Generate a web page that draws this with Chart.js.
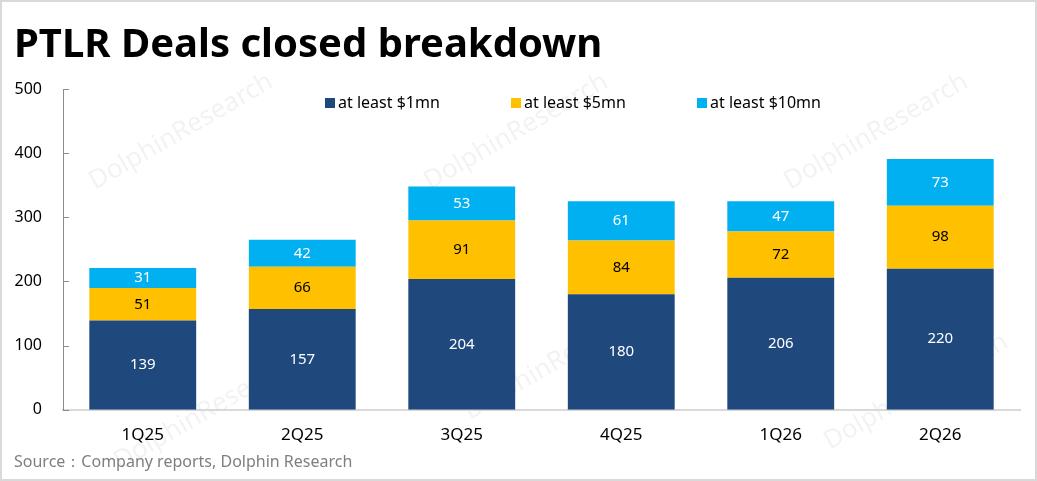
<!DOCTYPE html>
<html>
<head>
<meta charset="utf-8">
<script src="https://cdn.jsdelivr.net/npm/chart.js@4.4.1/dist/chart.umd.min.js"></script>
<style>
  body { margin: 0; background: #fff; }
  #wrap { width: 1037px; height: 481px; }
</style>
</head>
<body>
<div id="wrap"><canvas id="dealsChart" width="1037" height="481"></canvas></div>
<script>
// chart data
const quarters = ['1Q25', '2Q25', '3Q25', '4Q25', '1Q26', '2Q26'];
const atLeast1mn = [139, 157, 204, 180, 206, 220];
const atLeast5mn = [51, 66, 91, 84, 72, 98];
const atLeast10mn = [31, 42, 53, 61, 47, 73];
const seriesNames = ['at least $1mn', 'at least $5mn', 'at least $10mn'];
const yTicks = [0, 100, 200, 300, 400, 500];

const FONT = '"Noto Sans", "Open Sans", sans-serif';

// light grey frame round the whole picture
const framePlugin = {
  id: 'frame',
  beforeDraw(chart) {
    const ctx = chart.ctx;
    ctx.save();
    ctx.fillStyle = '#fff';
    ctx.fillRect(0, 0, chart.width, chart.height);
    // faint watermark
    ctx.fillStyle = 'rgba(0,0,0,0.05)';
    ctx.font = '26px ' + FONT;
    const marks = [[95, 190], [430, 190], [790, 190], [120, 470], [470, 420], [830, 450]];
    marks.forEach(m => {
      ctx.save();
      ctx.translate(m[0], m[1]);
      ctx.rotate(-Math.PI / 6);
      ctx.fillText('DolphinResearch', 0, 0);
      ctx.restore();
    });
    ctx.strokeStyle = '#d9d9d9';
    ctx.lineWidth = 2;
    ctx.strokeRect(1, 1, chart.width - 2, chart.height - 2);
    ctx.restore();
  }
};

// small ticks pointing into the plot on the y axis
const innerTicksPlugin = {
  id: 'innerTicks',
  afterDraw(chart) {
    const ctx = chart.ctx;
    const y = chart.scales.y;
    const left = chart.chartArea.left;
    ctx.save();
    ctx.strokeStyle = '#8c8c8c';
    ctx.lineWidth = 1;
    yTicks.forEach(v => {
      const py = Math.round(y.getPixelForValue(v)) + 0.5;
      ctx.beginPath();
      ctx.moveTo(left, py);
      ctx.lineTo(left + 6, py);
      ctx.stroke();
    });
    ctx.restore();
  }
};

// value labels in the middle of each segment
const segmentLabelsPlugin = {
  id: 'segmentLabels',
  afterDatasetsDraw(chart) {
    const ctx = chart.ctx;
    ctx.save();
    ctx.font = '15px ' + FONT;
    ctx.textAlign = 'center';
    ctx.textBaseline = 'middle';
    chart.data.datasets.forEach((ds, i) => {
      const meta = chart.getDatasetMeta(i);
      ctx.fillStyle = i === 1 ? '#000' : '#fff';
      meta.data.forEach((bar, j) => {
        ctx.fillText(String(ds.data[j]), bar.x, (bar.y + bar.base) / 2);
      });
    });
    ctx.restore();
  }
};

// legend sits inside the plot, near its top
const insideLegendPlugin = {
  id: 'insideLegend',
  afterDraw(chart) {
    const ctx = chart.ctx;
    const area = chart.chartArea;
    ctx.save();
    ctx.font = '16px ' + FONT;
    ctx.textBaseline = 'middle';
    ctx.textAlign = 'left';
    const y = area.top + 14;
    chart.data.datasets.forEach((ds, i) => {
      const x = area.left + 262 + i * 186;
      ctx.fillStyle = ds.backgroundColor;
      ctx.fillRect(x, y - 5, 10, 10);
      ctx.fillStyle = '#000';
      ctx.fillText(ds.label, x + 13, y);
    });
    ctx.restore();
  }
};

const ctx = document.getElementById('dealsChart').getContext('2d');
const dealsChart = new Chart(ctx, {
  type: 'bar',
  data: {
    labels: quarters,
    datasets: [
      { label: seriesNames[0], data: atLeast1mn, backgroundColor: '#1F497D' },
      { label: seriesNames[1], data: atLeast5mn, backgroundColor: '#FFC000' },
      { label: seriesNames[2], data: atLeast10mn, backgroundColor: '#00B0F0' },
    ],
  },
  options: {
    responsive: false,
    animation: false,
    devicePixelRatio: 1,
    layout: { padding: { left: 14, right: 17, top: 0, bottom: 9 } },
    datasets: { bar: { categoryPercentage: 1, barPercentage: 0.67 } },
    plugins: {
      legend: { display: false },
      tooltip: { enabled: false },
      title: {
        display: true,
        text: 'PTLR Deals closed breakdown',
        align: 'start',
        color: '#000',
        font: { family: FONT, size: 40, weight: 'bold' },
        padding: { top: 22, bottom: 19 },
      },
      subtitle: {
        display: true,
        position: 'bottom',
        text: 'Source：Company reports, Dolphin Research',
        align: 'start',
        color: '#7f7f7f',
        font: { family: FONT, size: 16 },
        padding: { top: 7, bottom: 0 },
      },
    },
    scales: {
      x: {
        stacked: true,
        afterFit(scale) { scale.height = 36; },
        grid: { display: false, drawTicks: false },
        border: { color: '#d9d9d9', width: 2 },
        ticks: { color: '#000', font: { family: FONT, size: 17 }, padding: 15 },
      },
      y: {
        stacked: true,
        min: 0,
        max: 500,
        afterFit(scale) { scale.width = 49; },
        afterBuildTicks(scale) { scale.ticks = yTicks.map(v => ({ value: v })); },
        grid: { display: false, drawTicks: false },
        border: { color: '#8c8c8c', width: 1 },
        ticks: { color: '#000', font: { family: FONT, size: 16 }, padding: 21 },
      },
    },
  },
  plugins: [framePlugin, innerTicksPlugin, segmentLabelsPlugin, insideLegendPlugin],
});
</script>
</body>
</html>
